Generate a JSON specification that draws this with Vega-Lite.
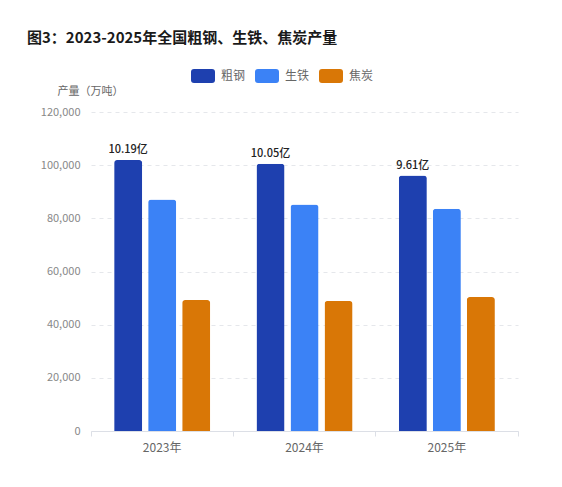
{
  "$schema": "https://vega.github.io/schema/vega-lite/v6.json",
  "width": 427,
  "height": 319,
  "autosize": {"type": "none"},
  "padding": {"left": 91, "top": 112, "right": 44, "bottom": 56},
  "background": "#ffffff",
  "title": {
    "text": "图3：2023-2025年全国粗钢、生铁、焦炭产量",
    "anchor": "start",
    "frame": "group",
    "dx": -64,
    "dy": -14,
    "fontSize": 15,
    "fontWeight": "bold",
    "color": "#1a1a1a",
    "font": "Noto Sans CJK SC"
  },
  "data": {
    "values": [
      {"year": "2023年", "series": "粗钢", "value": 101908, "label": "10.19亿"},
      {"year": "2023年", "series": "生铁", "value": 87101},
      {"year": "2023年", "series": "焦炭", "value": 49260},
      {"year": "2024年", "series": "粗钢", "value": 100509, "label": "10.05亿"},
      {"year": "2024年", "series": "生铁", "value": 85174},
      {"year": "2024年", "series": "焦炭", "value": 48927},
      {"year": "2025年", "series": "粗钢", "value": 96081, "label": "9.61亿"},
      {"year": "2025年", "series": "生铁", "value": 83600},
      {"year": "2025年", "series": "焦炭", "value": 50400}
    ]
  },
  "encoding": {
    "x": {
      "field": "year",
      "type": "nominal",
      "sort": null,
      "title": null,
      "scale": {"paddingInner": 0, "paddingOuter": 0},
      "axis": {
        "bandPosition": 1,
        "tickExtra": true,
        "labelOffset": 0,
        "labelAngle": 0,
        "labelColor": "#666666",
        "labelFontSize": 12,
        "labelPadding": 6,
        "domainColor": "#dcdfe6",
        "tickColor": "#dcdfe6",
        "tickSize": 5,
        "grid": false
      }
    },
    "xOffset": {
      "field": "series",
      "type": "nominal",
      "scale": {"domain": ["粗钢", "生铁", "焦炭"], "paddingInner": 0.176, "paddingOuter": 0.68}
    },
    "y": {
      "field": "value",
      "type": "quantitative",
      "scale": {"domain": [0, 120000]},
      "axis": {
        "title": "产量（万吨）",
        "titleAngle": 0,
        "titleAlign": "left",
        "titleBaseline": "alphabetic",
        "titleX": -34,
        "titleY": -18,
        "titleFontSize": 11,
        "titleFontWeight": "normal",
        "titleColor": "#666666",
        "labelColor": "#888888",
        "labelFontSize": 11,
        "labelPadding": 11,
        "ticks": false,
        "tickSize": 0,
        "domain": false,
        "grid": true,
        "gridDash": [4, 4],
        "gridColor": "#e5e7eb",
        "values": [0, 20000, 40000, 60000, 80000, 100000, 120000],
        "format": ",.0f"
      }
    }
  },
  "layer": [
    {
      "mark": {"type": "bar", "cornerRadiusTopLeft": 3, "cornerRadiusTopRight": 3},
      "encoding": {
        "color": {
          "field": "series",
          "type": "nominal",
          "scale": {"domain": ["粗钢", "生铁", "焦炭"], "range": ["#1e40af", "#3b82f6", "#d97706"]},
          "legend": {
            "title": null,
            "orient": "none",
            "direction": "horizontal",
            "legendX": 100,
            "legendY": -48,
            "symbolType": "M-0.75,-0.58L0.75,-0.58Q1,-0.58 1,-0.33L1,0.33Q1,0.58 0.75,0.58L-0.75,0.58Q-1,0.58 -1,0.33L-1,-0.33Q-1,-0.58 -0.75,-0.58Z",
            "symbolSize": 576,
            "symbolStrokeWidth": 0,
            "labelFontSize": 12,
            "labelColor": "#666666",
            "labelOffset": 6,
            "columnPadding": 9
          }
        }
      }
    },
    {
      "transform": [{"filter": "datum.label"}],
      "mark": {"type": "text", "baseline": "bottom", "dy": -5, "fontSize": 11, "fontWeight": 500, "color": "#222222"},
      "encoding": {"text": {"field": "label"}}
    }
  ],
  "config": {
    "font": "Noto Sans CJK SC",
    "view": {"stroke": null}
  }
}
